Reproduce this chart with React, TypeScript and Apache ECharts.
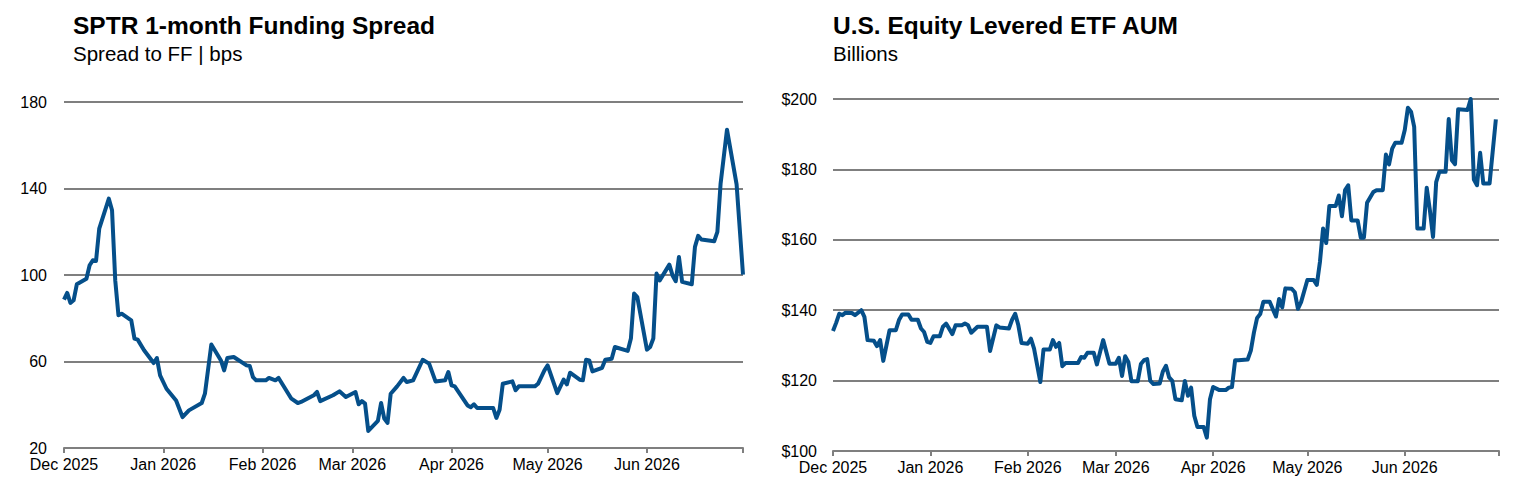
import React, { useEffect, useRef } from "react";
import * as echarts from "echarts";

// ---- Left chart: SPTR 1-month funding spread (bps) ----
const spreadDates = [
  "2025-12-01", "2025-12-02", "2025-12-03", "2025-12-04", "2025-12-05", "2025-12-08", "2025-12-09", "2025-12-10",
  "2025-12-11", "2025-12-12", "2025-12-15", "2025-12-16", "2025-12-17", "2025-12-18", "2025-12-19", "2025-12-22",
  "2025-12-23", "2025-12-24", "2025-12-26", "2025-12-29", "2025-12-30", "2025-12-31",
  "2026-01-02", "2026-01-05", "2026-01-07", "2026-01-09", "2026-01-13", "2026-01-14", "2026-01-16", "2026-01-19",
  "2026-01-20", "2026-01-21", "2026-01-23", "2026-01-27", "2026-01-28", "2026-01-29", "2026-01-30",
  "2026-02-02", "2026-02-03", "2026-02-05", "2026-02-06", "2026-02-10", "2026-02-12", "2026-02-13", "2026-02-17",
  "2026-02-18", "2026-02-19", "2026-02-23", "2026-02-25", "2026-02-27",
  "2026-03-02", "2026-03-03", "2026-03-04", "2026-03-05", "2026-03-06", "2026-03-09", "2026-03-10", "2026-03-11",
  "2026-03-12", "2026-03-13", "2026-03-15", "2026-03-17", "2026-03-18", "2026-03-20", "2026-03-23", "2026-03-25",
  "2026-03-27", "2026-03-30", "2026-03-31",
  "2026-04-01", "2026-04-02", "2026-04-06", "2026-04-07", "2026-04-08", "2026-04-09", "2026-04-14", "2026-04-15",
  "2026-04-16", "2026-04-17", "2026-04-20", "2026-04-21", "2026-04-22", "2026-04-27", "2026-04-28", "2026-04-30",
  "2026-05-01", "2026-05-04", "2026-05-06", "2026-05-07", "2026-05-08", "2026-05-11", "2026-05-12", "2026-05-13",
  "2026-05-14", "2026-05-15", "2026-05-18", "2026-05-19", "2026-05-21", "2026-05-22", "2026-05-26", "2026-05-27",
  "2026-05-28", "2026-05-29",
  "2026-06-01", "2026-06-02", "2026-06-03", "2026-06-04", "2026-06-05", "2026-06-08", "2026-06-09", "2026-06-10",
  "2026-06-11", "2026-06-12", "2026-06-15", "2026-06-16", "2026-06-17", "2026-06-18", "2026-06-22", "2026-06-23",
  "2026-06-24", "2026-06-26", "2026-06-29", "2026-07-01",
];
const spreadValues = [
  88.6, 91.7, 87.1, 88.3, 95.7, 98.3, 104.5, 106.8,
  106.5, 121.4, 135.3, 129.9, 97.5, 81.4, 82.1, 79.0,
  70.6, 70.1, 65.2, 59.3, 61.6, 53.6,
  47.4, 42.0, 34.3, 37.4, 40.8, 45.1, 67.9, 60.5,
  55.9, 61.6, 62.1, 58.2, 57.9, 52.8, 51.3,
  51.3, 52.4, 51.3, 52.4, 42.8, 40.8, 41.3, 44.4,
  45.9, 41.7, 44.4, 46.2, 43.6,
  45.9, 40.2, 41.7, 40.5, 27.9, 32.5, 40.8, 33.6,
  31.6, 45.1, 48.5, 52.4, 50.5, 51.3, 60.8, 59.0,
  50.8, 51.3, 55.1,
  49.0, 48.5, 39.7, 38.9, 40.2, 38.5, 38.5, 33.9,
  37.7, 49.7, 50.8, 46.7, 48.5, 48.5, 49.7, 55.9,
  58.2, 45.4, 51.6, 49.4, 54.8, 51.6, 51.3, 60.8,
  60.5, 55.4, 57.1, 60.8, 61.3, 66.7, 64.9, 70.6,
  91.4, 89.8,
  65.5, 66.7, 70.6, 100.7, 97.5, 104.8, 99.8, 97.1,
  108.3, 96.8, 95.7, 113.0, 118.1, 116.4, 115.6, 119.9,
  142.2, 167.2, 141.9, 100.2,
];

// ---- Right chart: U.S. equity levered ETF AUM ($ billions) ----
const aumDates = [
  "2025-12-01", "2025-12-02", "2025-12-03", "2025-12-04", "2025-12-05", "2025-12-07", "2025-12-08", "2025-12-10",
  "2025-12-11", "2025-12-12", "2025-12-14", "2025-12-15", "2025-12-16", "2025-12-17", "2025-12-19", "2025-12-21",
  "2025-12-22", "2025-12-23", "2025-12-25", "2025-12-26", "2025-12-28", "2025-12-29", "2025-12-30", "2025-12-31",
  "2026-01-01", "2026-01-02", "2026-01-04", "2026-01-05", "2026-01-06", "2026-01-08", "2026-01-09", "2026-01-11",
  "2026-01-12", "2026-01-13", "2026-01-14", "2026-01-16", "2026-01-19", "2026-01-20", "2026-01-22", "2026-01-23",
  "2026-01-26", "2026-01-27", "2026-01-28", "2026-01-29", "2026-01-30",
  "2026-02-01", "2026-02-02", "2026-02-03", "2026-02-05", "2026-02-06", "2026-02-08", "2026-02-09", "2026-02-10",
  "2026-02-11", "2026-02-12", "2026-02-13", "2026-02-17", "2026-02-18", "2026-02-19", "2026-02-20", "2026-02-22",
  "2026-02-23", "2026-02-25", "2026-02-27",
  "2026-03-01", "2026-03-02", "2026-03-03", "2026-03-04", "2026-03-05", "2026-03-06", "2026-03-08", "2026-03-09",
  "2026-03-10", "2026-03-11", "2026-03-12", "2026-03-13", "2026-03-15", "2026-03-16", "2026-03-17", "2026-03-18",
  "2026-03-19", "2026-03-20", "2026-03-22", "2026-03-23", "2026-03-24", "2026-03-25", "2026-03-26", "2026-03-27",
  "2026-03-29", "2026-03-30", "2026-03-31",
  "2026-04-01", "2026-04-03", "2026-04-05", "2026-04-06", "2026-04-07", "2026-04-08", "2026-04-09", "2026-04-12",
  "2026-04-13", "2026-04-14", "2026-04-15", "2026-04-16", "2026-04-17", "2026-04-19", "2026-04-21", "2026-04-22",
  "2026-04-23", "2026-04-24", "2026-04-26", "2026-04-27", "2026-04-28", "2026-04-29",
  "2026-05-01", "2026-05-03", "2026-05-04", "2026-05-05", "2026-05-06", "2026-05-07", "2026-05-08", "2026-05-10",
  "2026-05-11", "2026-05-12", "2026-05-13", "2026-05-14", "2026-05-15", "2026-05-17", "2026-05-18", "2026-05-19",
  "2026-05-20", "2026-05-22", "2026-05-23", "2026-05-25", "2026-05-26", "2026-05-27", "2026-05-28", "2026-05-29",
  "2026-05-31",
  "2026-06-01", "2026-06-02", "2026-06-03", "2026-06-04", "2026-06-05", "2026-06-07", "2026-06-08", "2026-06-09",
  "2026-06-10", "2026-06-11", "2026-06-12", "2026-06-14", "2026-06-15", "2026-06-16", "2026-06-17", "2026-06-18",
  "2026-06-21", "2026-06-22", "2026-06-23", "2026-06-24", "2026-06-25", "2026-06-26", "2026-06-28", "2026-06-30",
];
const aumValues = [
  134.1, 136.4, 139.0, 138.6, 139.3, 139.2, 138.6, 140.0,
  138.1, 131.5, 131.3, 129.8, 131.5, 125.6, 134.3, 134.3,
  137.2, 138.8, 138.8, 137.3, 137.3, 134.8, 133.8, 131.0,
  130.7, 132.6, 132.6, 135.3, 136.2, 133.2, 135.7, 135.7,
  136.2, 135.7, 133.6, 135.3, 135.3, 128.4, 135.7, 135.1,
  134.8, 137.3, 139.0, 135.7, 130.7,
  130.5, 131.9, 129.1, 119.6, 128.8, 128.8, 131.5, 129.6,
  130.7, 124.1, 125.0, 125.0, 126.7, 126.5, 127.9, 127.9,
  124.6, 131.5, 124.8,
  124.8, 126.5, 121.3, 126.9, 125.3, 119.8, 119.8, 124.7,
  125.8, 126.1, 119.9, 119.0, 119.2, 122.6, 124.2, 120.9,
  119.9, 114.7, 114.4, 119.9, 115.7, 118.0, 110.0, 106.8,
  106.8, 103.8, 114.7,
  118.2, 117.3, 117.3, 118.0, 118.2, 125.8, 125.8, 126.0,
  128.5, 133.7, 137.8, 138.9, 142.4, 142.4, 138.2, 143.2,
  140.8, 146.2, 146.1, 145.1, 140.4, 142.3,
  148.6, 148.6, 147.2, 153.7, 163.2, 159.1, 169.6, 169.6,
  172.6, 166.7, 174.1, 175.5, 165.5, 165.5, 160.6, 160.6,
  170.5, 173.6, 174.1, 174.1, 184.2, 181.4, 185.9, 187.6,
  187.6,
  191.2, 197.5, 196.4, 192.1, 163.2, 163.2, 174.8, 168.4,
  160.8, 176.4, 179.3, 179.3, 194.3, 182.6, 181.5, 197.1,
  196.9, 200.0, 177.1, 175.5, 184.7, 176.0, 176.0, 194.2,
];

const spreadAxis = { min: 20, max: 180, interval: 40 };
const aumAxis = { min: 100, max: 200, interval: 20 };
const xStart = "2025-12-01";
const xEnd = "2026-07-01";
const monthNames = ["Jan", "Feb", "Mar", "Apr", "May", "Jun", "Jul", "Aug", "Sep", "Oct", "Nov", "Dec"];

const FONT = "'Liberation Sans', Arial, sans-serif";
const GRID_COLOR = "#7f7f7f";
const LINE_COLOR = "#054f8a";

function xAxisFor(gridIndex: number) {
  return {
    type: "time",
    gridIndex,
    min: xStart,
    max: xEnd,
    splitNumber: 7,
    minInterval: 28 * 86400000,
    maxInterval: 31 * 86400000,
    axisLine: { show: true, lineStyle: { color: GRID_COLOR, width: 2 } },
    axisTick: { show: true, length: 5, lineStyle: { color: GRID_COLOR, width: 2 } },
    splitLine: { show: false },
    minorTick: { show: false },
    axisLabel: {
      color: "#000",
      fontFamily: FONT,
      fontSize: 16,
      margin: 8,
      hideOverlap: false,
      formatter: (val: number) => {
        const d = new Date(val);
        if (d.getFullYear() === 2026 && d.getMonth() === 6) return "";
        return `${monthNames[d.getMonth()]} ${d.getFullYear()}`;
      },
    },
  };
}

export default function App() {
  const ref = useRef<HTMLDivElement>(null);
  useEffect(() => {
    if (!ref.current) return;
    const chart = echarts.init(ref.current, undefined, { renderer: "svg" });
    const titleStyle = { fontFamily: FONT, fontSize: 24.5, fontWeight: "bold", color: "#000" };
    const subStyle = { fontFamily: FONT, fontSize: 20.5, fontWeight: "normal", color: "#000" };
    chart.setOption({
      animation: false,
      backgroundColor: "#fff",
      title: [
        { text: "SPTR 1-month Funding Spread", left: 73, top: 13, padding: 0, textStyle: titleStyle },
        { text: "Spread to FF | bps", left: 73, top: 43, padding: 0, textStyle: subStyle },
        { text: "U.S. Equity Levered ETF AUM", left: 833, top: 13, padding: 0, textStyle: titleStyle },
        { text: "Billions", left: 833, top: 43, padding: 0, textStyle: subStyle },
      ],
      grid: [
        { left: 64, width: 679, top: 102, height: 346, containLabel: false },
        { left: 833, width: 666, top: 99, height: 352, containLabel: false },
      ],
      xAxis: [xAxisFor(0), xAxisFor(1)],
      yAxis: [
        {
          type: "value",
          gridIndex: 0,
          min: spreadAxis.min,
          max: spreadAxis.max,
          interval: spreadAxis.interval,
          axisLine: { show: false },
          axisTick: { show: false },
          splitLine: { show: true, lineStyle: { color: GRID_COLOR, width: 2 } },
          axisLabel: { color: "#000", fontFamily: FONT, fontSize: 16, margin: 17 },
        },
        {
          type: "value",
          gridIndex: 1,
          min: aumAxis.min,
          max: aumAxis.max,
          interval: aumAxis.interval,
          axisLine: { show: false },
          axisTick: { show: false },
          splitLine: { show: true, lineStyle: { color: GRID_COLOR, width: 2 } },
          axisLabel: {
            color: "#000",
            fontFamily: FONT,
            fontSize: 16,
            margin: 16,
            formatter: (v: number) => `$${v}`,
          },
        },
      ],
      series: [
        {
          type: "line",
          xAxisIndex: 0,
          yAxisIndex: 0,
          data: spreadDates.map((d, i) => [d, spreadValues[i]]),
          showSymbol: false,
          symbol: "none",
          clip: false,
          lineStyle: { color: LINE_COLOR, width: 4, join: "round" },
        },
        {
          type: "line",
          xAxisIndex: 1,
          yAxisIndex: 1,
          data: aumDates.map((d, i) => [d, aumValues[i]]),
          showSymbol: false,
          symbol: "none",
          clip: false,
          lineStyle: { color: LINE_COLOR, width: 4, join: "round" },
        },
      ],
    });
    return () => chart.dispose();
  }, []);
  return (
    <div
      ref={ref}
      style={{ position: "fixed", left: 0, top: 0, width: 1527, height: 490, background: "#fff" }}
    />
  );
}
